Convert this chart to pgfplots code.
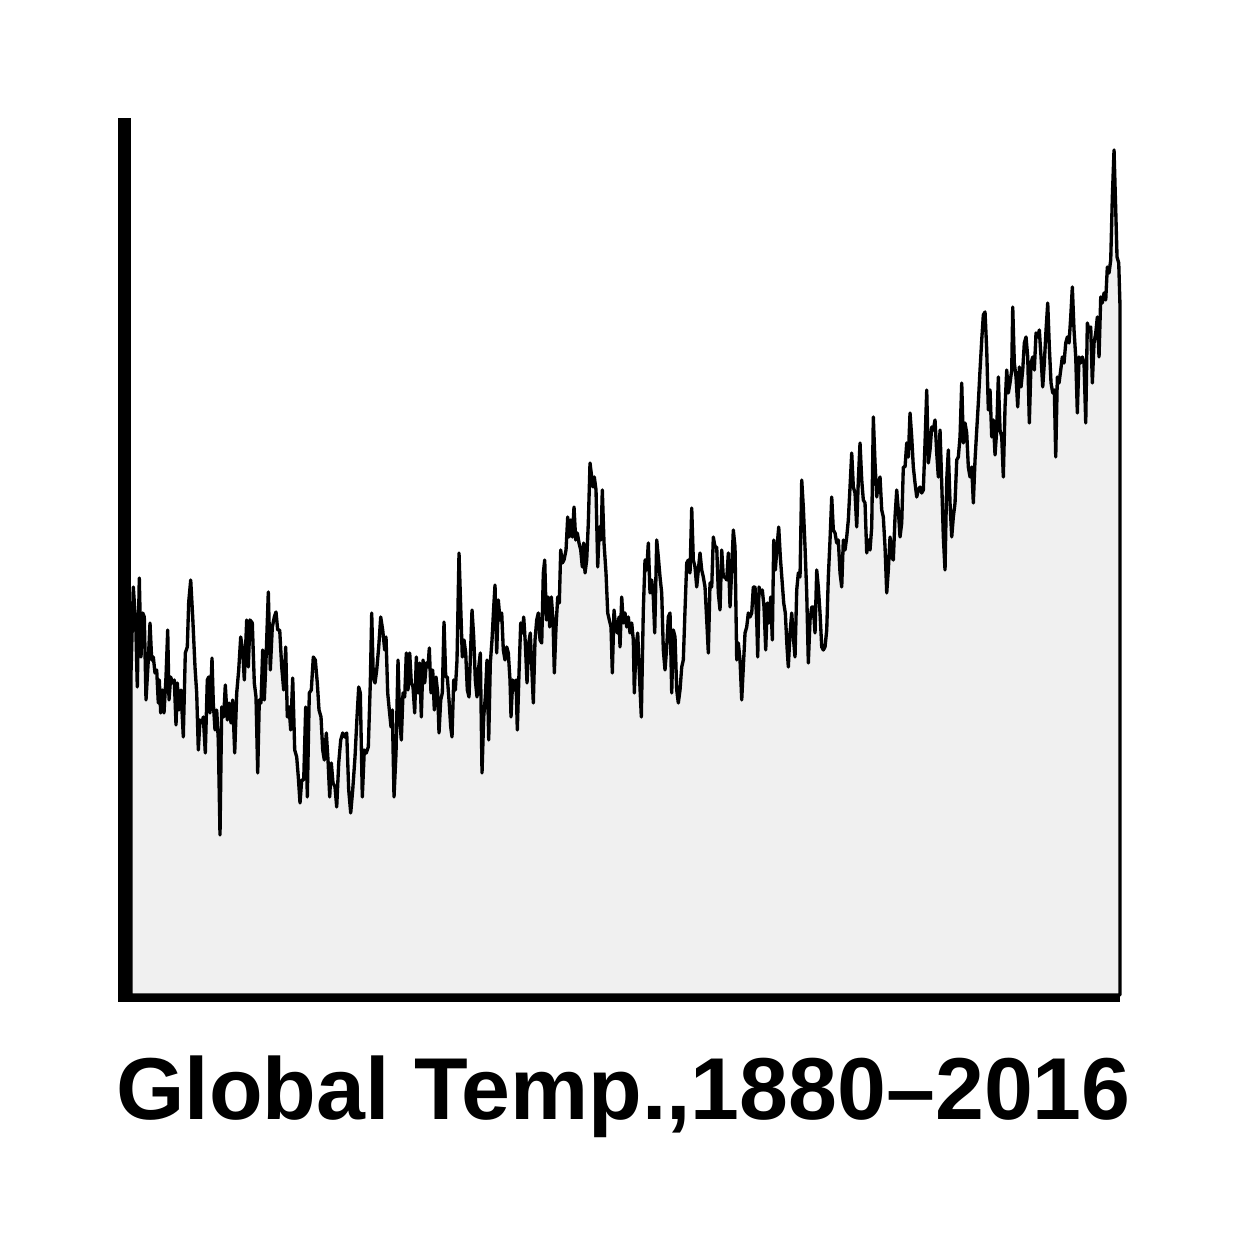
\documentclass[border=0pt]{standalone}
\usepackage{pgfplots}
\pgfplotsset{compat=1.18}
\usepackage{fontspec}
\setmainfont{Liberation Sans}
\definecolor{areafill}{HTML}{F0F0F0}
\begin{document}
\begin{tikzpicture}
\path[use as bounding box] (0,0) rectangle (124.5mm,124.5mm);
\begin{axis}[
  at={(12.45mm,24.95mm)}, anchor=south west,
  scale only axis, width=99.55mm, height=87.1mm,
  xmin=124.5, xmax=1120, ymin=-0.5, ymax=870.5,
  axis x line=bottom, axis y line=left,
  x axis line style={-, line width=1.3mm, line cap=butt},
  y axis line style={-, line width=1.3mm, line cap=rect},
  xtick=\empty, ytick=\empty,
  clip=false,
]
\addplot[draw=black, line width=0.95pt, fill=areafill, line join=round] table {
131 322
133.3 408
135.7 372
137.3 308
139.3 417
141 338
142.7 382
144.3 378
146 295
148.3 335
150 372
151.7 335
153.3 338
155 322
156.7 325
158.3 292
159.3 315
160.7 282
162.3 305
164 282
166 318
167.7 365
169 295
170.7 318
172.3 312
174.3 315
176 270
177.3 312
179 285
181 305
183.3 258
185.3 342
187.3 348
188.7 393
190.7 415
192.7 378
195 328
196.7 302
198.3 245
200 275
202 272
203.3 278
205.3 242
207.3 315
208.7 318
210 282
212 337
213.3 292
215 265
216.7 285
218.3 255
220 160
221.7 288
223.7 278
225.3 310
227.3 275
229 292
231 272
232.7 295
234.7 242
236.7 302
238.7 325
240.7 358
242.7 345
244.3 315
246.7 375
248.3 328
250 375
252.3 372
254.3 312
256 298
257.7 222
259.3 295
261 292
262.7 345
264.3 295
266 335
268.3 403
270.3 325
272.3 368
274.3 378
276 383
277.7 365
279.7 365
281.7 328
283.7 305
285.7 348
287.3 278
289 288
290.7 265
292.7 317
294.7 245
296.7 238
298.3 218
300 192
301.7 215
303.7 215
305.7 288
307.3 198
309.3 302
311.3 305
313.3 338
315.3 335
317.3 312
319 285
321 278
322.7 245
324.3 235
326.3 262
328 235
329.7 198
331.3 232
333 212
335 208
336.7 188
338.7 232
340.7 255
342.7 262
344.7 258
346.7 262
348.7 205
350.7 182
352.7 205
355 238
357 278
358.7 308
360.3 302
362.3 198
364.3 245
366.3 242
368.3 248
370.3 312
371.7 382
373.3 318
375 312
376.7 325
378.7 348
380.7 378
382.7 365
384.7 345
386 358
387.7 302
389.3 285
391 268
392.3 285
394 198
396 242
398 335
399.7 275
401.3 255
403 302
404.7 298
406.3 342
408 305
409.7 342
411.3 312
413 308
414.7 282
416.3 338
418 302
419.7 332
421.3 278
423 335
424.7 312
426.3 332
428 328
429.3 347
431 302
432.7 325
434.3 285
436 318
437.7 302
439 262
440.7 295
442.3 302
444 373
445.7 318
447.3 318
449 295
450.7 268
452 258
453.7 315
455.3 305
457 335
459 442
460.7 388
462.3 338
464 355
465.7 342
467.3 305
469 298
470.7 348
472 385
473.7 358
475.3 315
477 298
478.7 328
480.3 342
482 222
483.7 278
485.3 298
487 335
488.7 255
490.3 332
492 355
493.7 388
495 410
496.7 342
498.3 395
500 375
501.7 382
503.3 345
505 335
506.7 348
508.3 342
510 315
511 278
512.7 315
514.3 305
516 315
517.3 265
519 322
520.7 372
522.3 362
523.7 378
525.3 352
527 312
528.7 352
530.3 362
532 322
533.3 292
535 355
536.7 375
538.3 382
540 355
541.7 352
543.3 422
544.7 435
546.3 375
548 398
549.7 368
551.3 398
553 375
554.3 322
556 368
557.7 398
559.3 392
560.7 445
562.3 432
564 435
566 445
567.7 478
569 458
570.7 475
572.3 458
574 488
575.7 455
577.3 462
579 452
580.7 445
582.3 428
583.7 452
585 422
586.7 435
588.3 472
590 532
591.7 518
593 508
594.3 518
596 505
597.7 428
599.3 468
601 455
602.3 505
604 452
606 422
607.7 382
609.3 375
611 368
612.3 322
614 385
615.7 368
617.3 362
619 378
620 348
621.7 398
623.3 372
625 382
626.7 368
628.3 378
630 362
631.7 372
633.3 355
634.3 302
636 348
637.7 362
639.3 322
641.3 278
643.3 385
645 435
646.7 425
648.3 452
650 402
651.7 415
653.3 398
654.7 362
656.7 455
658.3 438
660 418
661.7 402
663.3 345
665 325
666.7 348
668.3 378
670 382
671.7 302
673.3 365
675 358
676.7 305
678.3 292
680 305
681.7 328
683.3 335
685 385
686.7 432
688.3 435
690 422
691.7 487
693.3 435
695 428
696.7 408
698.3 425
700 442
701.7 425
703.3 418
705 408
706.7 375
708.3 342
710 412
711.7 408
713.3 458
715 448
716.7 448
718.3 402
720 385
721.7 445
723.3 418
725 418
726.7 415
728.3 442
730 388
731.7 425
733.3 465
735 448
736.7 335
738.3 352
740 335
741.7 295
743.3 328
745 362
746.7 368
748.3 382
750 378
751.7 382
753.3 408
755 408
756.7 375
757.7 338
759 408
760.7 402
762.3 405
764 388
765.7 345
767.3 392
769 372
770.7 398
772.3 355
773.7 455
775.3 425
777 448
778.7 468
780.3 438
782 415
783.7 392
785.3 382
787 348
788.3 328
790 362
791.7 382
793.3 358
795 338
796.7 405
798.3 422
800 418
801.7 515
803.3 488
805 448
806.7 402
808.3 332
810 375
811.7 388
813.3 388
815 362
816.7 425
818.3 408
820 382
821.7 348
823.3 345
825 348
826.7 365
828.3 418
830 455
831.7 498
833.3 465
835 462
836.7 452
838.3 455
840 422
841.7 408
843.3 455
845 445
846.7 458
848.3 475
850 508
851.7 542
853.3 508
855 502
856.7 468
858.3 515
860 552
861.7 515
863.3 495
865 492
866.7 442
868.3 455
870 445
871.7 468
873.3 578
875 532
876.7 498
878.3 512
880 518
881.7 485
883.3 478
885 448
886.7 402
888.3 425
890 458
891.7 438
893.3 435
895 478
896.7 505
898.3 485
900 458
901.7 472
903.3 528
905 528
906.7 552
908.3 538
910 582
911.7 558
913.3 528
915 512
916.7 498
918.3 505
920 508
921.7 502
923.3 505
925 552
926.7 605
928.3 532
930 545
931.7 568
933.3 565
935 575
936.7 542
938.3 518
940 565
941.7 512
943.3 458
945 425
946.7 515
948.3 545
950 492
951.7 458
953.3 478
955 492
956.7 535
958.3 538
960 558
961.7 612
963.3 552
965 572
966.7 562
968.3 528
970 518
971.7 528
973.3 492
975 535
976.7 565
978.3 592
980 625
981.7 655
983.3 680
985 683
986.7 645
988.3 585
990 605
991.7 558
993.3 575
995 540
996.7 565
998.3 618
1000 565
1001.7 558
1003.3 518
1005 588
1006.7 625
1008.3 602
1010 612
1011.7 625
1012.7 688
1014.3 632
1016 618
1017.7 588
1019.3 628
1021 608
1022.7 625
1024.3 652
1026 658
1027.7 638
1029.3 572
1031 632
1032.7 638
1034.3 625
1036 662
1037.7 658
1039.3 665
1041 638
1042.7 608
1044.3 632
1046 665
1047.7 692
1049.3 648
1051 612
1052.7 602
1054.3 605
1055.7 538
1057.3 618
1059 612
1060.7 625
1062.3 638
1064 632
1065.7 652
1067.3 658
1069 652
1070.7 678
1072.3 708
1074 665
1075.7 638
1077.3 582
1079 638
1080.7 632
1082.3 638
1084 632
1085.7 572
1087.3 672
1089 665
1090.7 668
1092.3 612
1094 652
1095.7 662
1097.3 678
1099 638
1100.7 698
1102.3 692
1104 702
1105.7 695
1107.3 728
1109 722
1110.7 735
1112.3 798
1114 845
1115.7 785
1117 738
1118.7 732
1120 688
} \closedcycle;
\end{axis}
\node[anchor=base, inner sep=0pt] at (62.35mm,12.5mm) {\bfseries\fontsize{25pt}{30pt}\selectfont Global Temp.,1880–2016};
\end{tikzpicture}
\end{document}
